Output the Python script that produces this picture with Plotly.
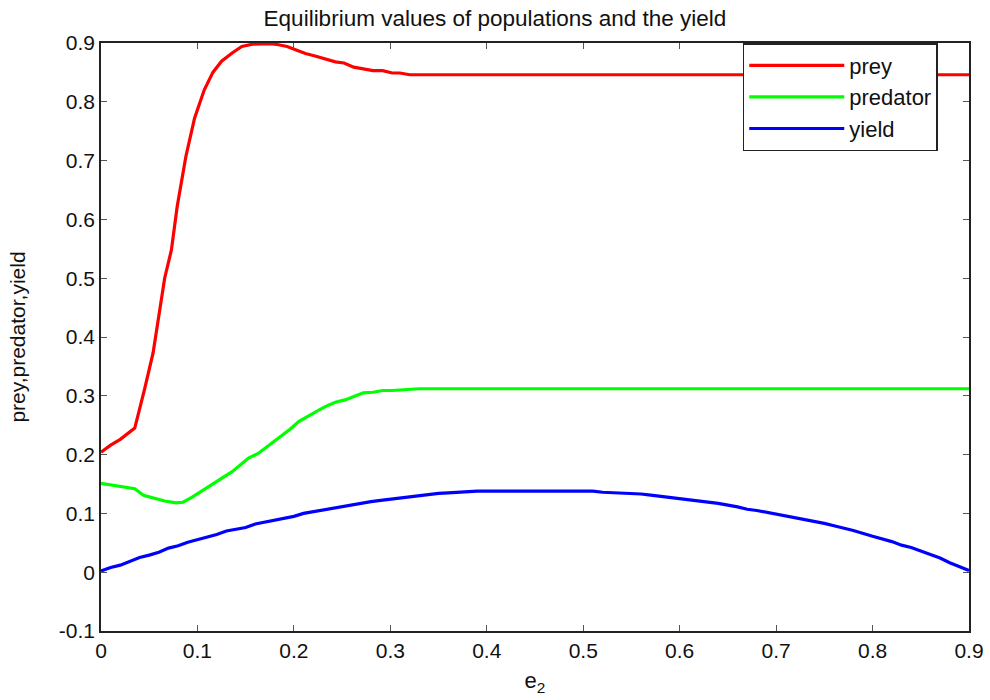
import plotly.graph_objects as go

prey_x = [0.0, 0.01, 0.02, 0.035, 0.045, 0.054, 0.066, 0.073, 0.079, 0.088, 0.097, 0.107, 0.116, 0.125, 0.136, 0.146, 0.157, 0.167, 0.176, 0.184, 0.193, 0.201, 0.212, 0.222, 0.233, 0.243, 0.252, 0.262, 0.272, 0.282, 0.292, 0.302, 0.31, 0.32, 0.5, 0.9]
prey_y = [0.204, 0.216, 0.226, 0.245, 0.31, 0.373, 0.50, 0.548, 0.622, 0.707, 0.772, 0.82, 0.85, 0.869, 0.883, 0.894, 0.898, 0.899, 0.899, 0.897, 0.894, 0.889, 0.882, 0.878, 0.872, 0.868, 0.866, 0.859, 0.856, 0.853, 0.853, 0.849, 0.849, 0.846, 0.846, 0.846]

pred_x = [0.0, 0.018, 0.035, 0.044, 0.056, 0.066, 0.078, 0.085, 0.095, 0.108, 0.12, 0.136, 0.145, 0.153, 0.163, 0.175, 0.186, 0.196, 0.205, 0.214, 0.224, 0.233, 0.243, 0.253, 0.262, 0.272, 0.282, 0.292, 0.302, 0.312, 0.322, 0.33, 0.9]
pred_y = [0.151, 0.146, 0.142, 0.131, 0.125, 0.121, 0.118, 0.119, 0.128, 0.142, 0.155, 0.171, 0.183, 0.194, 0.202, 0.217, 0.23, 0.243, 0.256, 0.265, 0.274, 0.282, 0.289, 0.293, 0.299, 0.305, 0.306, 0.309, 0.309, 0.31, 0.312, 0.312, 0.312]

yield_x = [0.0, 0.01, 0.02, 0.03, 0.04, 0.05, 0.06, 0.07, 0.08, 0.09, 0.1, 0.11, 0.12, 0.13, 0.14, 0.15, 0.16, 0.17, 0.18, 0.19, 0.2, 0.21, 0.22, 0.23, 0.24, 0.25, 0.26, 0.27, 0.28, 0.29, 0.3, 0.31, 0.32, 0.33, 0.34, 0.35, 0.36, 0.37, 0.38, 0.39, 0.45, 0.51, 0.52, 0.54, 0.56, 0.57, 0.58, 0.59, 0.6, 0.62, 0.64, 0.66, 0.67, 0.68, 0.69, 0.7, 0.72, 0.74, 0.75, 0.76, 0.78, 0.8, 0.82, 0.83, 0.84, 0.86, 0.87, 0.88, 0.89, 0.9]
yield_y = [0.002, 0.008, 0.012, 0.018, 0.025, 0.029, 0.034, 0.041, 0.045, 0.051, 0.055, 0.06, 0.064, 0.07, 0.073, 0.076, 0.082, 0.085, 0.088, 0.092, 0.095, 0.1, 0.103, 0.106, 0.108, 0.111, 0.114, 0.117, 0.12, 0.122, 0.124, 0.127, 0.128, 0.13, 0.132, 0.134, 0.135, 0.136, 0.137, 0.138, 0.138, 0.138, 0.136, 0.135, 0.133, 0.131, 0.129, 0.127, 0.126, 0.121, 0.117, 0.111, 0.107, 0.105, 0.102, 0.098, 0.093, 0.087, 0.083, 0.079, 0.071, 0.061, 0.052, 0.046, 0.042, 0.03, 0.024, 0.016, 0.009, 0.003]

x_ticks = [0, 0.1, 0.2, 0.3, 0.4, 0.5, 0.6, 0.7, 0.8, 0.9]
y_ticks = [-0.1, 0, 0.1, 0.2, 0.3, 0.4, 0.5, 0.6, 0.7, 0.8, 0.9]

font_family = "Liberation Sans, Arial, sans-serif"

fig = go.Figure()
fig.add_trace(go.Scatter(x=prey_x, y=prey_y, mode="lines", name="prey",
                         line=dict(color="#ff0000", width=3.2)))
fig.add_trace(go.Scatter(x=pred_x, y=pred_y, mode="lines", name="predator",
                         line=dict(color="#00ff00", width=3.2)))
fig.add_trace(go.Scatter(x=yield_x, y=yield_y, mode="lines", name="yield",
                         line=dict(color="#0000ff", width=3.2)))

axis_common = dict(showgrid=False, zeroline=False, showline=True, linecolor="#222222",
                   linewidth=1.5, mirror="allticks", ticks="inside", ticklen=6,
                   tickcolor="#555555", automargin=False,
                   tickfont=dict(size=21, color="#111111", family=font_family))

fig.update_layout(
    width=990, height=700, autosize=False,
    paper_bgcolor="white", plot_bgcolor="white",
    margin=dict(l=101, r=21, t=43, b=69, autoexpand=False),
    title=dict(text="Equilibrium values of populations and the yield", x=0.5, xanchor="center",
               y=1 - 18 / 700, yanchor="middle", automargin=False,
               font=dict(size=22.5, color="#111111", family=font_family)),
    xaxis=dict(range=[0, 0.9], tickvals=x_ticks, ticktext=[("%g" % v) for v in x_ticks],
               title=dict(text="e<sub>2</sub>", standoff=12, font=dict(size=22, color="#111111", family=font_family)),
               **axis_common),
    yaxis=dict(range=[-0.1, 0.9], tickvals=y_ticks, ticktext=[("%g" % v) for v in y_ticks],
               title=dict(text="prey,predator,yield", standoff=28, font=dict(size=21, color="#111111", family=font_family)),
               **axis_common),
    legend=dict(x=0.964, xanchor="right", y=1.0, yanchor="top", bgcolor="white",
                bordercolor="#222222", borderwidth=1.5,
                font=dict(size=22, color="#111111", family=font_family),
                tracegroupgap=0, itemwidth=95),
    showlegend=True,
)

fig.write_html("out.html", config={"displayModeBar": False},
               post_script="document.body.style.margin='0';document.body.style.overflow='hidden';")
